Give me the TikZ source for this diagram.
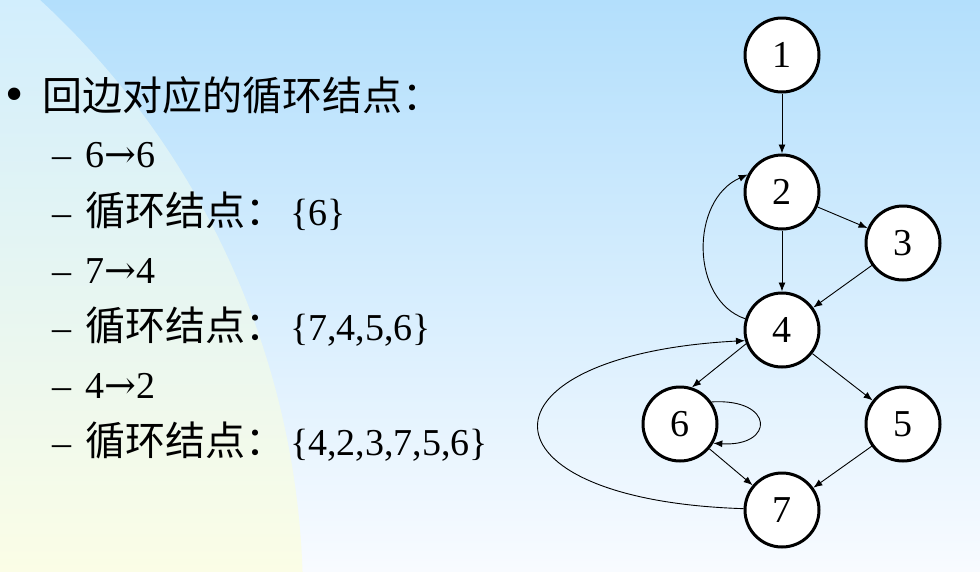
\documentclass[tikz,border=0pt]{standalone}
\usepackage{fontspec}
\setmainfont{Liberation Serif}
\newfontfamily\cjk{Noto Sans CJK SC}
\newfontfamily\arrfont{DejaVu Serif}
\usetikzlibrary{arrows.meta}
\definecolor{bgtop}{HTML}{B3DFFC}
\definecolor{bgbot}{HTML}{F8FBFF}
\definecolor{lftop}{HTML}{D2EEFD}
\definecolor{lfbot}{HTML}{FBFDE6}
\newcommand{\myarr}{{\arrfont\fontsize{38}{40}\selectfont →}}
\tikzset{
  vtx/.style={circle,draw=black,line width=3pt,fill=white,minimum size=74pt,inner sep=0pt,font=\fontsize{38}{40}\selectfont},
  edge/.style={line width=0.9pt,-{Latex[length=9pt,width=7pt]}},
  txt/.style={anchor=base west,inner sep=0pt,font=\fontsize{38}{40}\selectfont},
  cjktxt/.style={anchor=base west,inner sep=0pt,font=\fontsize{40}{42}\cjk},
}
\begin{document}
\begin{tikzpicture}[x=1pt,y=-1pt]
\useasboundingbox (0,0) rectangle (980,571);
\shade[top color=bgtop,bottom color=bgbot] (0,0) rectangle (980,571);
\begin{scope}
  \clip (-513,600) circle [radius=816pt];
  \shade[top color=lftop,bottom color=lfbot] (0,0) rectangle (310,571);
\end{scope}
% text
\node[anchor=center,inner sep=0pt] (b0) at (15,100) {\fontsize{52}{52}\selectfont\raisebox{-0.27em}{•}};
\node[cjktxt] (t0) at (42,110) {回边对应的循环结点：};
\node[txt] (d1) at (52,167) {–};
\node[txt] (t1) at (85,167) {6\myarr 6};
\node[txt] (d2) at (52,225) {–};
\node[cjktxt] (t2) at (85,225) {循环结点：};
\node[txt] (s2) at (290,225) {\{6\}};
\node[txt] (d3) at (52,283) {–};
\node[txt] (t3) at (85,283) {7\myarr 4};
\node[txt] (d4) at (52,340) {–};
\node[cjktxt] (t4) at (85,340) {循环结点：};
\node[txt] (s4) at (290,340) {\{7,4,5,6\}};
\node[txt] (d5) at (52,398) {–};
\node[txt] (t5) at (85,398) {4\myarr 2};
\node[txt] (d6) at (52,455) {–};
\node[cjktxt] (t6) at (85,455) {循环结点：};
\node[txt] (s6) at (290,455) {\{4,2,3,7,5,6\}};
% graph
\node[vtx] (n1) at (782,55) {1};
\node[vtx] (n2) at (782,192) {2};
\node[vtx] (n3) at (903,243) {3};
\node[vtx] (n4) at (782,330) {4};
\node[vtx] (n5) at (903,424) {5};
\node[vtx] (n6) at (680,424) {6};
\node[vtx] (n7) at (782,510) {7};
\draw[edge] (n1) -- (n2);
\draw[edge] (n2) -- (n3);
\draw[edge] (n2) -- (n4);
\draw[edge] (n3) -- (n4);
\draw[edge] (n4) -- (n5);
\draw[edge] (n4.201) -- (n6.72);
\draw[edge] (n6) -- (n7);
\draw[edge] (n5) -- (n7);
\draw[edge] (n4.163) .. controls (690,300) and (690,200) .. (n2.153);
\draw[edge] (n7.178) .. controls (470,500) and (470,355) .. (n4.196);
\draw[edge] (n6.35) .. controls (775,398) and (775,447) .. (n6.-30);
\end{tikzpicture}
\end{document}
